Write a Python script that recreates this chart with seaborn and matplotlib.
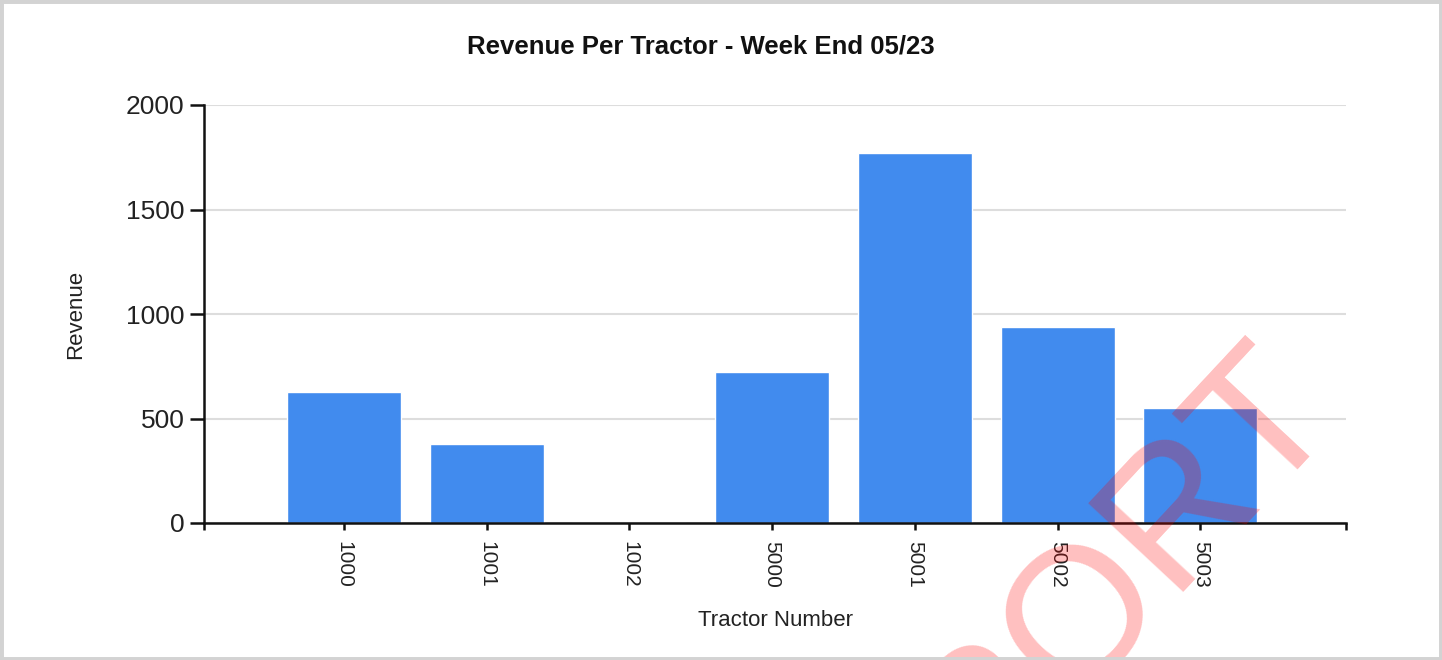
import matplotlib
matplotlib.use("Agg")
import matplotlib.pyplot as plt
import seaborn as sns
import pandas as pd
from matplotlib.patches import Rectangle

tractors = ["1000", "1001", "1002", "5000", "5001", "5002", "5003"]
revenue = [627, 378, 0, 722, 1770, 938, 552]
yticks = [0, 500, 1000, 1500, 2000]

title = "Revenue Per Tractor - Week End 05/23"
xlabel = "Tractor Number"
ylabel = "Revenue"
watermark = "REPORT"

sns.set_theme(style="white")
plt.rcParams['font.family'] = ['Liberation Sans', 'DejaVu Sans']

df = pd.DataFrame({"Tractor": tractors, "Revenue": revenue})

fig = plt.figure(figsize=(14.42, 6.6), dpi=100)
ax = fig.add_axes([204/1442, 1-523/660, (1346-204)/1442, (523-105)/660])

sns.barplot(data=df, x="Tractor", y="Revenue", order=tractors, color="#418bee",
            saturation=1, width=0.8, ax=ax, zorder=2)

n = len(tractors)
ax.set_xlim(-0.98, n + 0.02)
ax.set_ylim(0, 2000)
ax.set_yticks(yticks)
ax.set_yticklabels([str(v) for v in yticks], fontsize=19, color="#222222")
ax.set_xticks(range(n))
ax.set_xticklabels(tractors, rotation=-90, fontsize=15, color="#222222")
ax.set_xticks([-0.98, n + 0.02], minor=True)

ax.yaxis.grid(True, color="#dddddd", linewidth=1.5, zorder=0)
ax.set_axisbelow(True)
for s in ["top", "right"]:
    ax.spines[s].set_visible(False)
for s in ["left", "bottom"]:
    ax.spines[s].set_color("#111111")
    ax.spines[s].set_linewidth(1.8)

ax.tick_params(axis="y", which="major", direction="out", length=10, width=1.8,
               color="#111111", pad=4, left=True)
ax.tick_params(axis="x", which="both", direction="out", length=5, width=1.8,
               color="#111111", pad=8, bottom=True)

ax.set_xlabel(xlabel, fontsize=16, color="#222222")
ax.set_ylabel(ylabel, fontsize=16, color="#222222")
ax.xaxis.set_label_coords(0.5, -(610-523)/418)
ax.yaxis.set_label_coords((86-204)/1142, 0.5)

fig.text(701/1442, 1-46/660, title, ha="center", va="center",
         fontsize=18.5, fontweight="bold", color="#111111")

fig.text(1034/1442, 1-664/660, watermark, ha="center", va="center",
         rotation=47, fontsize=137, color="red", alpha=0.25, zorder=10)

fig.patches.append(Rectangle((0, 0), 1, 1, transform=fig.transFigure,
                             fill=False, edgecolor="#d3d3d3", linewidth=5,
                             zorder=20))

fig.savefig("out.png", dpi=100)
